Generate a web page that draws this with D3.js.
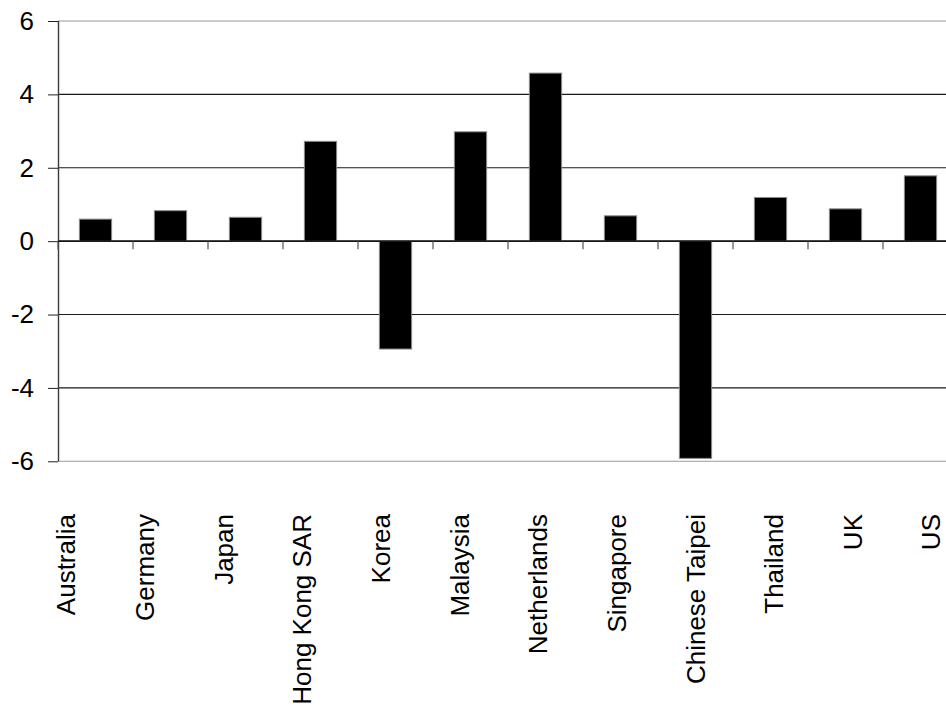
<!DOCTYPE html>
<html>
<head>
<meta charset="utf-8">
<script src="https://cdn.jsdelivr.net/npm/d3@7"></script>
<style>
    html, body { margin: 0; padding: 0; background: #fff; }
    svg { display: block; font-family: "Liberation Sans", Arial, sans-serif; }
</style>
</head>
<body>
<svg id="chart" width="946" height="711"></svg>
<script>
// values
const countries = ["Australia", "Germany", "Japan", "Hong Kong SAR", "Korea", "Malaysia",
    "Netherlands", "Singapore", "Chinese Taipei", "Thailand", "UK", "US"];
const changes = [0.60, 0.83, 0.65, 2.72, -2.94, 2.98, 4.58, 0.69, -5.92, 1.19, 0.88, 1.78];
const yTicks = [-6, -4, -2, 0, 2, 4, 6];

const svg = d3.select("#chart");

const plot = { left: 58, right: 958, top: 21, bottom: 461.3 };

const x = d3.scaleBand()
    .domain(countries)
    .range([plot.left, plot.right])
    .paddingInner(0.57)
    .paddingOuter(0.285);

// category labels sit on a slightly wider spacing than the bars
const xLabel = d3.scaleBand()
    .domain(countries)
    .range([28.2, 972]);

const y = d3.scaleLinear()
    .domain([-6, 6])
    .range([plot.bottom, plot.top]);

const data = countries.map((c, i) => ({ name: c, value: changes[i] }));

// Gridlines
svg.append("g")
    .selectAll("line")
    .data(yTicks)
    .join("line")
    .attr("x1", plot.left)
    .attr("x2", plot.right)
    .attr("y1", d => y(d))
    .attr("y2", d => y(d))
    .style("stroke", d => (Math.abs(d) === 6 ? "#9a9a9a" : "#1a1a1a"))
    .style("stroke-width", 1.1);

// Y axis
const yAxis = svg.append("g")
    .attr("transform", `translate(${plot.left},0)`)
    .call(d3.axisLeft(y)
        .tickValues(yTicks)
        .tickSize(10)
        .tickPadding(14)
        .tickFormat(d => String(d)));

yAxis.select(".domain")
    .attr("d", `M0.5,${plot.top}V${plot.bottom}`)
    .style("stroke", "#3a3a3a")
    .style("stroke-width", 1.4);

yAxis.selectAll(".tick line")
    .attr("x1", 0)
    .style("stroke", "#222");

yAxis.selectAll("text")
    .style("font-size", "26px")
    .style("fill", "#000");

// Bars
svg.append("g")
    .selectAll("rect")
    .data(data)
    .join("rect")
    .attr("x", d => x(d.name))
    .attr("width", x.bandwidth())
    .attr("y", d => y(Math.max(0, d.value)))
    .attr("height", d => Math.abs(y(d.value) - y(0)))
    .style("fill", "#000")
    .style("stroke", "#8a8a8a")
    .style("stroke-width", 1);

// Zero line over bar edges
svg.append("line")
    .attr("x1", plot.left)
    .attr("x2", plot.right)
    .attr("y1", y(0))
    .attr("y2", y(0))
    .style("stroke", "#000")
    .style("stroke-width", 1.2);

// Category ticks between bars
svg.append("g")
    .selectAll("line")
    .data(d3.range(countries.length + 1))
    .join("line")
    .attr("x1", i => plot.left + i * x.step())
    .attr("x2", i => plot.left + i * x.step())
    .attr("y1", y(0))
    .attr("y2", y(0) + 8)
    .style("stroke", "#555")
    .style("stroke-width", 1.2);

// Category labels
svg.append("g")
    .selectAll("text")
    .data(countries)
    .join("text")
    .attr("transform", d => `translate(${xLabel(d) + xLabel.bandwidth() / 2},514) rotate(-90)`)
    .attr("text-anchor", "end")
    .attr("dy", "0.3em")
    .style("font-size", "26px")
    .style("fill", "#000")
    .text(d => d);
</script>
</body>
</html>
